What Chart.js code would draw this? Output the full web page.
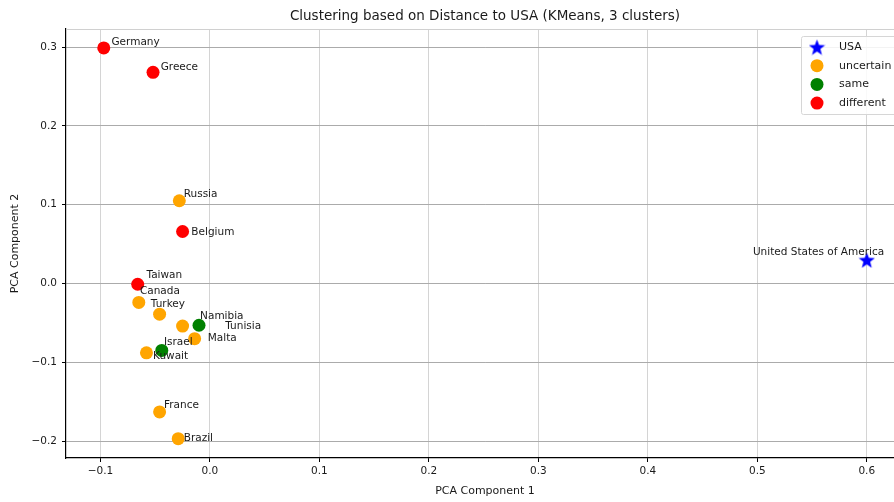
<!DOCTYPE html>
<html lang="en">
<head>
    <meta charset="UTF-8">
    <title>Clustering based on Distance to USA</title>
    <script src="https://cdn.jsdelivr.net/npm/chart.js"></script>
    <style>
        body { margin: 0; overflow: hidden; background: #fff; }
        canvas { display: block; }
    </style>
</head>
<body>
    <canvas id="chart" width="960" height="502"></canvas>

    <script>
        // Countries and their PCA coordinates
        const countries = ['Germany', 'Greece', 'Russia', 'Belgium', 'Taiwan', 'Canada', 'Turkey',
                           'Tunisia', 'Namibia', 'Malta', 'Israel', 'Kuwait', 'France', 'Brazil'];
        const pcaX = [-0.097, -0.052, -0.028, -0.025, -0.066, -0.065, -0.046,
                      -0.025, -0.010, -0.014, -0.044, -0.058, -0.046, -0.029];
        const pcaY = [0.299, 0.268, 0.105, 0.066, -0.001, -0.024, -0.039,
                      -0.054, -0.053, -0.070, -0.085, -0.088, -0.163, -0.197];
        const cluster = ['different', 'different', 'uncertain', 'different', 'different', 'uncertain', 'uncertain',
                         'uncertain', 'same', 'uncertain', 'same', 'uncertain', 'uncertain', 'uncertain'];
        // where the text labels sit (data units, as placed in the original)
        const labelX = [-0.090, -0.045, -0.024, -0.017, -0.058, -0.064, -0.054,
                        0.014, -0.009, -0.002, -0.042, -0.052, -0.042, -0.024];
        const labelY = [0.306, 0.275, 0.113, 0.065, 0.011, -0.010, -0.027,
                        -0.054, -0.041, -0.070, -0.075, -0.093, -0.154, -0.196];

        const usaName = 'United States of America';
        const usaX = 0.600;
        const usaY = 0.030;
        const usaLabelX = 0.496;
        const usaLabelY = 0.039;

        const clusterNames = ['uncertain', 'same', 'different'];
        const clusterColors = { uncertain: '#ffa500', same: '#008000', different: '#ff0000' };

        const xTicks = [-0.1, 0.0, 0.1, 0.2, 0.3, 0.4, 0.5, 0.6];
        const yTicks = [-0.2, -0.1, 0.0, 0.1, 0.2, 0.3];

        const FONT = 'DejaVu Sans';
        const INK = '#1a1a1a';

        // filled 5-point star for the USA marker
        function makeStar(size) {
            const c = document.createElement('canvas');
            c.width = size; c.height = size;
            const g = c.getContext('2d');
            const cx = size / 2, cy = size / 2, ro = size / 2, ri = ro * 0.42;
            g.beginPath();
            for (let i = 0; i < 10; i++) {
                const r = i % 2 === 0 ? ro : ri;
                const a = -Math.PI / 2 + i * Math.PI / 5;
                g.lineTo(cx + r * Math.cos(a), cy + r * Math.sin(a) + 1);
            }
            g.closePath();
            g.fillStyle = '#0000ff';
            g.fill();
            return c;
        }
        const star = makeStar(17);

        const datasets = [{
            label: 'USA',
            data: [{ x: usaX, y: usaY }],
            pointStyle: star,
            backgroundColor: '#0000ff'
        }];
        clusterNames.forEach(name => {
            const pts = [];
            countries.forEach((c, i) => {
                if (cluster[i] === name) pts.push({ x: pcaX[i], y: pcaY[i] });
            });
            datasets.push({
                label: name,
                data: pts,
                backgroundColor: clusterColors[name],
                borderWidth: 0,
                pointRadius: 6.5,
                pointHoverRadius: 6.5
            });
        });

        const fmt = v => {
            const s = Math.abs(v) < 1e-9 ? '0.0' : v.toFixed(1);
            return s.replace('-', '\u2212');
        };

        // title, text labels, frame and legend
        const extras = {
            id: 'extras',
            afterDatasetsDraw(chart) {
                const ctx = chart.ctx;
                const xs = chart.scales.x, ys = chart.scales.y;
                const area = chart.chartArea;
                ctx.save();

                // top spine
                ctx.strokeStyle = '#d0d0d0';
                ctx.lineWidth = 1;
                ctx.beginPath();
                ctx.moveTo(area.left, area.top + 0.5);
                ctx.lineTo(area.right, area.top + 0.5);
                ctx.stroke();

                // country labels
                ctx.fillStyle = INK;
                ctx.font = '10.5px "' + FONT + '"';
                ctx.textBaseline = 'middle';
                ctx.textAlign = 'left';
                countries.forEach((c, i) => {
                    ctx.fillText(c, xs.getPixelForValue(labelX[i]), ys.getPixelForValue(labelY[i]));
                });
                ctx.fillText(usaName, xs.getPixelForValue(usaLabelX), ys.getPixelForValue(usaLabelY));

                // title
                ctx.font = '13.5px "' + FONT + '"';
                ctx.textAlign = 'center';
                ctx.fillText('Clustering based on Distance to USA (KMeans, 3 clusters)', (area.left + area.right) / 2, 16);

                // legend
                const lx = 801, ly = 36, lw = 110, lh = 78;
                ctx.fillStyle = 'rgba(255,255,255,0.85)';
                ctx.strokeStyle = '#d6d6d6';
                ctx.beginPath();
                ctx.roundRect(lx + 0.5, ly + 0.5, lw, lh, 2);
                ctx.fill();
                ctx.stroke();
                ctx.font = '11px "' + FONT + '"';
                ctx.textAlign = 'left';
                const rows = ['USA'].concat(clusterNames);
                rows.forEach((name, i) => {
                    const ry = 47 + i * 18.7;
                    if (name === 'USA') {
                        ctx.drawImage(star, 817 - star.width / 2, ry - star.height / 2);
                    } else {
                        ctx.fillStyle = clusterColors[name];
                        ctx.beginPath();
                        ctx.arc(817, ry, 6.5, 0, Math.PI * 2);
                        ctx.fill();
                    }
                    ctx.fillStyle = INK;
                    ctx.fillText(name, 839, ry);
                });
                ctx.restore();
            }
        };

        const ctx = document.getElementById('chart').getContext('2d');
        new Chart(ctx, {
            type: 'scatter',
            data: { datasets: datasets },
            plugins: [extras],
            options: {
                responsive: false,
                animation: false,
                devicePixelRatio: 1,
                layout: { padding: { top: 29, left: 0, right: 56, bottom: 0 } },
                plugins: {
                    legend: { display: false },
                    title: { display: false },
                    tooltip: { enabled: false }
                },
                scales: {
                    x: {
                        type: 'linear',
                        min: -0.1315,
                        max: 0.634,
                        afterBuildTicks: s => { s.ticks = xTicks.map(v => ({ value: v })); },
                        afterFit: s => { s.height = 44; },
                        grid: { color: '#d4d4d4', tickColor: '#000', tickLength: 4 },
                        border: { color: '#000', width: 1.2 },
                        ticks: {
                            callback: fmt,
                            color: INK,
                            padding: 3,
                            maxRotation: 0,
                            font: { family: FONT, size: 10.5 }
                        },
                        title: {
                            display: true,
                            text: 'PCA Component 1',
                            color: INK,
                            padding: { top: 4, bottom: 4 },
                            font: { family: FONT, size: 11 }
                        }
                    },
                    y: {
                        type: 'linear',
                        min: -0.2215,
                        max: 0.323,
                        afterBuildTicks: s => { s.ticks = yTicks.map(v => ({ value: v })); },
                        afterFit: s => { s.width = 66; },
                        grid: { color: '#ababab', tickColor: '#000', tickLength: 4 },
                        border: { color: '#000', width: 1.2 },
                        ticks: {
                            callback: fmt,
                            color: INK,
                            padding: 5,
                            font: { family: FONT, size: 10.5 }
                        },
                        title: {
                            display: true,
                            text: 'PCA Component 2',
                            color: INK,
                            padding: { top: 8.5, bottom: 4 },
                            font: { family: FONT, size: 11 }
                        }
                    }
                }
            }
        });
    </script>
</body>
</html>
